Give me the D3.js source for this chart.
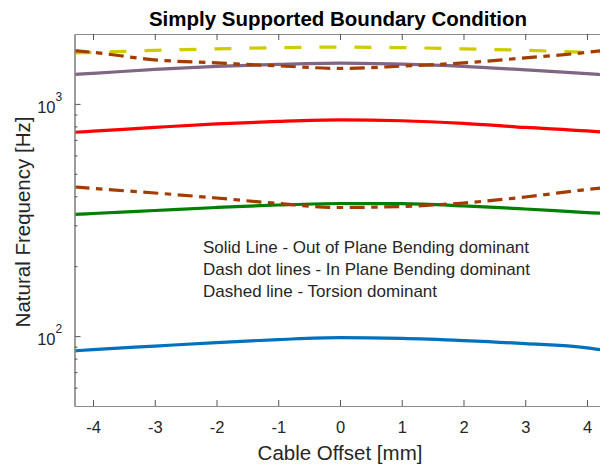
<!DOCTYPE html>
<html>
<head>
<meta charset="utf-8">
<script src="https://cdn.jsdelivr.net/npm/d3@7"></script>
<style>
  html, body { margin: 0; padding: 0; background: #fff; }
  svg { display: block; font-family: "Liberation Sans", Arial, Helvetica, sans-serif; }
</style>
</head>
<body>
<svg id="chart" width="600" height="469"></svg>
<script>
// Cable offset positions [mm]
const offsets = [-4.3, -4, -3, -2, -1, 0, 1, 2, 3, 4, 4.3];

// Natural frequencies [Hz] per mode
const mode1Solid   = [86.4, 87.5, 90.6, 93.8, 96.6, 98.5, 97.7, 95.6, 92.8, 89.0, 86.8];
const mode2Solid   = [334.6, 337.3, 347.5, 358, 367, 372.5, 371.8, 364, 352.7, 340.5, 337.3];
const mode3DashDot = [438.7, 432.3, 413.4, 393.3, 372.4, 358, 361.6, 374.3, 397.2, 428, 436.5];
const mode4Solid   = [755, 763, 792, 820, 841, 853, 846, 824, 792, 765, 755];
const mode5Solid   = [1340, 1354, 1408, 1451, 1480, 1498, 1483, 1451, 1401, 1350, 1334];
const mode6DashDot = [1697, 1667, 1548, 1502, 1458, 1422, 1454, 1502, 1579, 1667, 1705];
const mode7Dashed  = [1659, 1667, 1701, 1726, 1747, 1756, 1747, 1726, 1701, 1667, 1659];

const xTicks = [-4, -3, -2, -1, 0, 1, 2, 3, 4];
const yMajorTicks = [100, 1000];
const yMinorTicks = [60, 70, 80, 90, 200, 300, 400, 500, 600, 700, 800, 900];

const annotationLines = [
  "Solid Line - Out of Plane Bending dominant",
  "Dash dot lines - In Plane Bending dominant",
  "Dashed line - Torsion dominant"
];

const series = [
  { values: mode1Solid,   color: "#0072BD", dash: null },
  { values: mode2Solid,   color: "#008000", dash: null },
  { values: mode4Solid,   color: "#FF0000", dash: null },
  { values: mode5Solid,   color: "#806584", dash: null },
  { values: mode7Dashed,  color: "#CCCC00", dash: "17,18" },
  { values: mode3DashDot, color: "#A33C00", dash: "15,6.5,6.5,6.5" },
  { values: mode6DashDot, color: "#A33C00", dash: "15,6.5,6.5,6.5" }
];

const svg = d3.select("#chart");
const plotLeft = 74.5, plotRight = 605.5, plotTop = 34, plotBottom = 406;

const x = d3.scaleLinear().domain([-4.3, 4.3]).range([plotLeft, plotRight]);
const y = d3.scaleLog().domain([50, 2000]).range([plotBottom, plotTop]);

const axisColor = "#8a8a8a";
const textColor = "#262626";

// clip region for the data lines
svg.append("defs").append("clipPath").attr("id", "plotClip")
  .append("rect").attr("x", plotLeft).attr("y", plotTop)
  .attr("width", plotRight - plotLeft).attr("height", plotBottom - plotTop);

// data lines
const line = d3.line()
  .x((d, i) => x(offsets[i]))
  .y(d => y(d))
  .curve(d3.curveMonotoneX);

const lines = svg.append("g").attr("clip-path", "url(#plotClip)");
series.forEach(s => {
  lines.append("path")
    .attr("d", line(s.values))
    .attr("fill", "none")
    .attr("stroke", s.color)
    .attr("stroke-width", 3.2)
    .attr("stroke-dasharray", s.dash)
    .attr("stroke-linejoin", "round");
});

// axes (ticks pointing inward, box on)
const axisG = svg.append("g");
const bottomAxis = d3.axisBottom(x).tickValues(xTicks).tickSizeInner(-6).tickSizeOuter(0).tickPadding(15)
  .tickFormat(d3.format("d"));
const topAxis = d3.axisTop(x).tickValues(xTicks).tickSizeInner(-6).tickSizeOuter(0).tickFormat("");

const gb = axisG.append("g").attr("transform", `translate(0,${plotBottom})`).call(bottomAxis);
const gt = axisG.append("g").attr("transform", `translate(0,${plotTop})`).call(topAxis);

const leftMajor = d3.axisLeft(y).tickValues(yMajorTicks).tickSizeInner(-6).tickSizeOuter(0).tickFormat("");
const leftMinor = d3.axisLeft(y).tickValues(yMinorTicks).tickSizeInner(-3).tickSizeOuter(0).tickFormat("");
const gl = axisG.append("g").attr("transform", `translate(${plotLeft},0)`).call(leftMajor);
const glm = axisG.append("g").attr("transform", `translate(${plotLeft},0)`).call(leftMinor);

[gb, gt, gl, glm].forEach(g => {
  g.select(".domain").attr("stroke", axisColor).attr("stroke-width", 1.2);
  g.selectAll(".tick line").attr("stroke", "#555").attr("stroke-width", 1);
});
gb.selectAll(".tick text").attr("fill", textColor).attr("font-size", 16.5)
  .attr("font-family", "Liberation Sans, Arial, sans-serif")
  .text(d => d < 0 ? "-" + Math.abs(d) : d);

// y tick labels as powers of ten
yMajorTicks.forEach(v => {
  svg.append("text")
    .attr("x", 55.5).attr("y", y(v) + 9)
    .attr("text-anchor", "end")
    .attr("fill", textColor)
    .attr("font-size", 16.5)
    .text("10");
  const exp = Math.round(Math.log10(v));
  svg.append("text")
    .attr("x", 55.5).attr("y", y(v) - 3)
    .attr("fill", textColor)
    .attr("font-size", 12)
    .text(exp);
});

// title
svg.append("text")
  .attr("x", 338).attr("y", 26)
  .attr("text-anchor", "middle")
  .attr("font-weight", "bold")
  .attr("font-size", 20.5)
  .attr("fill", "#000")
  .text("Simply Supported Boundary Condition");

// axis labels
svg.append("text")
  .attr("x", 340).attr("y", 460)
  .attr("text-anchor", "middle")
  .attr("font-size", 20.5)
  .attr("fill", textColor)
  .text("Cable Offset [mm]");

svg.append("text")
  .attr("transform", "translate(30,222) rotate(-90)")
  .attr("text-anchor", "middle")
  .attr("font-size", 20.5)
  .attr("fill", textColor)
  .text("Natural Frequency [Hz]");

// annotation
const ann = svg.append("text")
  .attr("x", 203).attr("y", 252.5)
  .attr("font-size", 17)
  .attr("fill", textColor);
annotationLines.forEach((s, i) => {
  ann.append("tspan").attr("x", 203).attr("dy", i === 0 ? 0 : 22.3).text(s);
});
</script>
</body>
</html>
